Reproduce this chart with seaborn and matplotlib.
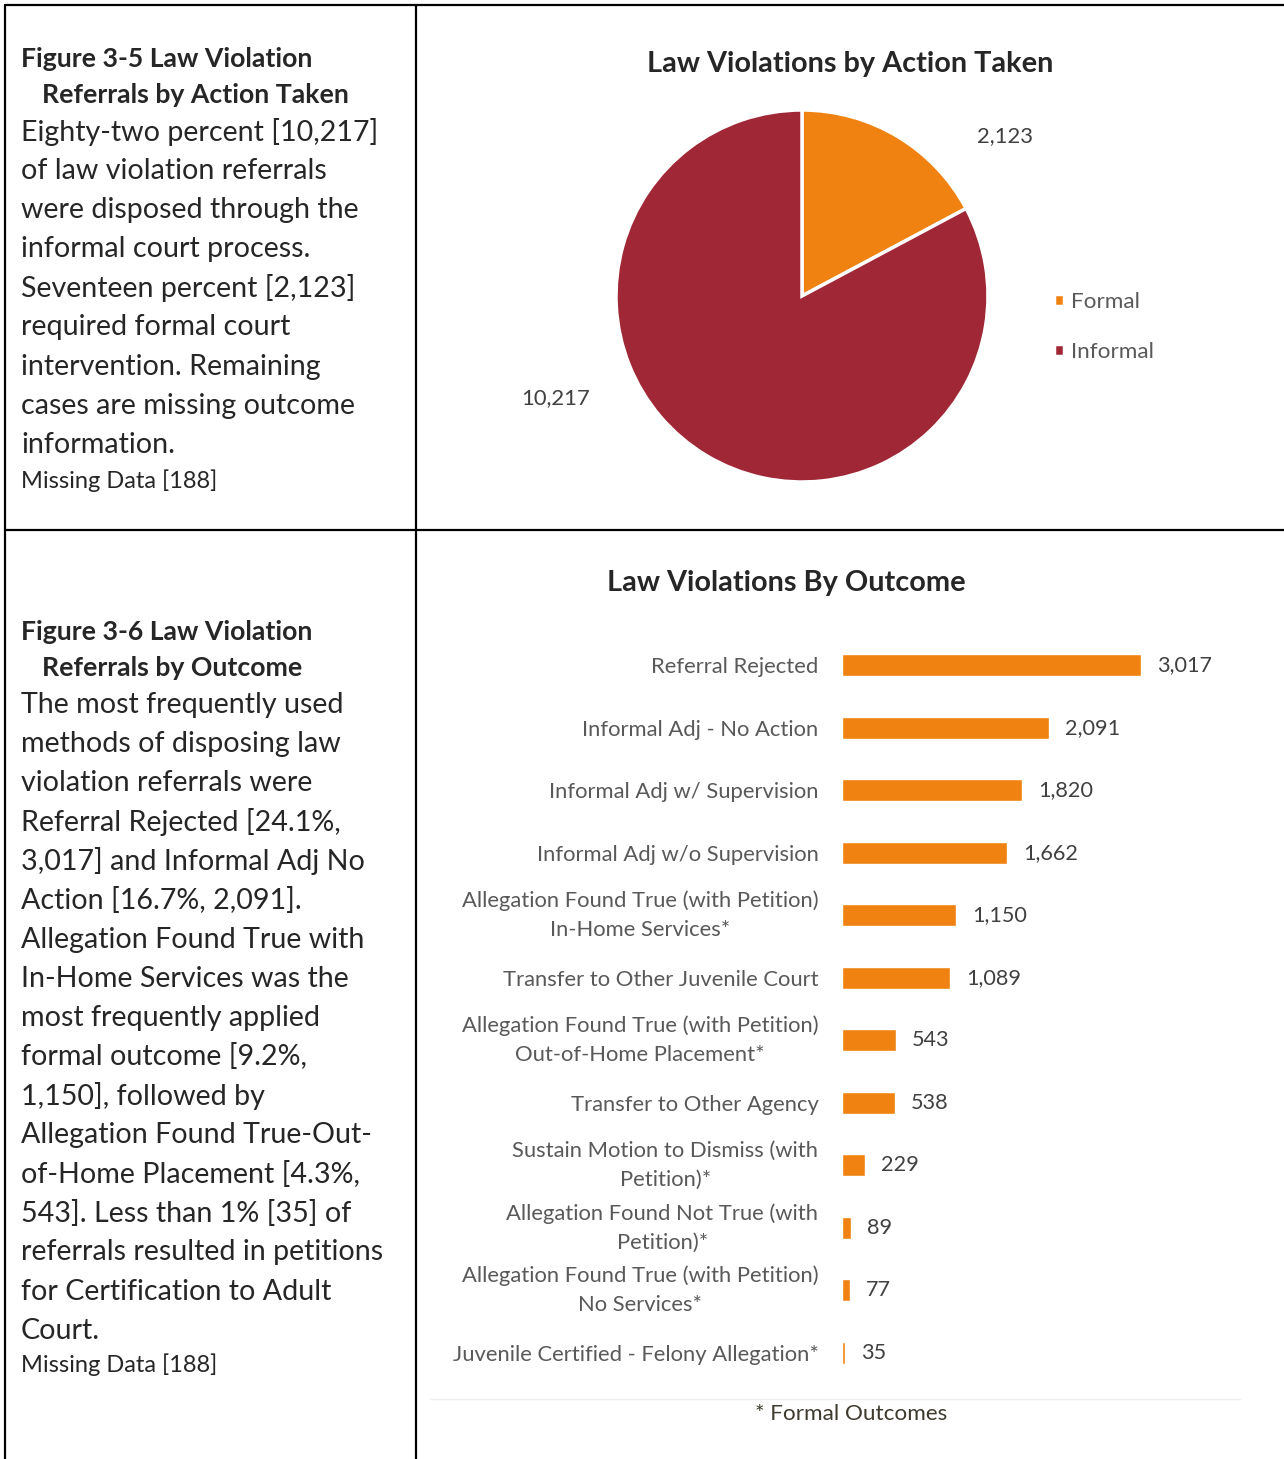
import seaborn as sns
import numpy as np
import matplotlib.pyplot as plt
from matplotlib.lines import Line2D

# data
pie_labels = ['Formal', 'Informal']
pie_values = [2123, 10217]

outcomes = [
    'Referral Rejected',
    'Informal Adj - No Action',
    'Informal Adj w/ Supervision',
    'Informal Adj w/o Supervision',
    'Allegation Found True (with Petition)\nIn-Home Services*',
    'Transfer to Other Juvenile Court',
    'Allegation Found True (with Petition)\nOut-of-Home Placement*',
    'Transfer to Other Agency',
    'Sustain Motion to Dismiss (with\nPetition)*',
    'Allegation Found Not True (with\nPetition)*',
    'Allegation Found True (with Petition)\nNo Services*',
    'Juvenile Certified - Felony Allegation*',
]
counts = [3017, 2091, 1820, 1662, 1150, 1089, 543, 538, 229, 89, 77, 35]

head1 = ['Figure 3-5 Law Violation', 'Referrals by Action Taken']
body1 = ['Eighty-two percent [10,217]', 'of law violation referrals',
         'were disposed through the', 'informal court process.',
         'Seventeen percent [2,123]', 'required formal court',
         'intervention. Remaining', 'cases are missing outcome',
         'information.']
head2 = ['Figure 3-6 Law Violation', 'Referrals by Outcome']
body2 = ['The most frequently used', 'methods of disposing law',
         'violation referrals were', 'Referral Rejected [24.1%,',
         '3,017] and Informal Adj No', 'Action [16.7%, 2,091].',
         'Allegation Found True with', 'In-Home Services was the',
         'most frequently applied', 'formal outcome [9.2%,',
         '1,150], followed by', 'Allegation Found True-Out-',
         'of-Home Placement [4.3%,', '543]. Less than 1% [35] of',
         'referrals resulted in petitions', 'for Certification to Adult',
         'Court.']
missing = 'Missing Data [188]'

ORANGE = '#EF8210'
RED = '#A02736'

sns.set_theme(style='white')
plt.rcParams['font.family'] = ['Lato', 'DejaVu Sans']

W, H = 1284, 1459
fig = plt.figure(figsize=(W / 100, H / 100), dpi=100)


def fx(px):
    return px / W


def fy(py):
    return 1 - py / H


# table borders
for (x0, y0, x1, y1) in [(5, 5, 1284, 5), (5, 530, 1284, 530),
                         (5, 5, 5, 1459), (416, 5, 416, 1459)]:
    fig.add_artist(Line2D([fx(x0), fx(x1)], [fy(y0), fy(y1)],
                          color='black', lw=1.6))


# left-hand text blocks (second heading line is indented)
def text_block(heads, body, y_head, y_body, y_missing):
    for i, t in enumerate(heads):
        fig.text(fx(21 if i == 0 else 42), fy(y_head + i * 36), t,
                 fontsize=19.2, fontweight='bold', va='center', ha='left')
    for i, t in enumerate(body):
        fig.text(fx(21), fy(y_body + i * 39.1), t, fontsize=20.6,
                 va='center', ha='left')
    fig.text(fx(21), fy(y_missing), missing, fontsize=17,
             va='center', ha='left')


text_block(head1, body1, 59, 132, 481)
text_block(head2, body2, 632, 705, 1365)

# pie chart
cx, cy, r = 802, 296, 186
side = 2 * r * 1.25
ax1 = fig.add_axes([fx(cx - side / 2), fy(cy + side / 2), side / W, side / H])
wedges, _ = ax1.pie(pie_values, colors=[ORANGE, RED], startangle=90,
                    counterclock=False,
                    wedgeprops=dict(edgecolor='white', linewidth=2.5))
ax1.text(203 / r, 160 / r, f'{pie_values[0]:,}', fontsize=15.8,
         color='#404040', ha='center', va='center')
ax1.text(-246 / r, -102 / r, f'{pie_values[1]:,}', fontsize=15.8,
         color='#404040', ha='center', va='center')
fig.text(fx(850), fy(64), 'Law Violations by Action Taken', fontsize=20.8,
         fontweight='bold', ha='center', va='center')
leg = fig.legend(wedges, pie_labels, loc='center left',
                 bbox_to_anchor=(fx(1034), fy(327)), frameon=False,
                 handlelength=0.45, handleheight=0.45, handletextpad=0.3,
                 labelspacing=1.35, fontsize=16.2)
for t in leg.get_texts():
    t.set_color('#595959')

# bar chart
scale = 299 / 3017  # px per referral
ax2 = fig.add_axes([fx(842), fy(1384), 3400 * scale / W, 750 / H])
sns.barplot(x=counts, y=outcomes, color=ORANGE, saturation=1, width=0.35,
            ax=ax2, orient='h')
ax2.set_xlim(0, 3400)
ax2.bar_label(ax2.containers[0], labels=[f'{v:,}' for v in counts],
              padding=11.5, fontsize=15.6, color='#404040')
ax2.set_xticks([])
ax2.tick_params(axis='y', length=0, pad=17, labelsize=15.8,
                labelcolor='#595959')
for lbl in ax2.get_yticklabels():
    lbl.set_multialignment('center')
    lbl.set_linespacing(1.55)
    if '\n' in lbl.get_text():
        lbl.set_va('center')
sns.despine(ax=ax2, left=True, bottom=True)
ax2.set_xlabel('')
ax2.set_ylabel('')

fig.text(fx(786), fy(583), 'Law Violations By Outcome', fontsize=20.8,
         fontweight='bold', ha='center', va='center')
fig.add_artist(Line2D([fx(430), fx(1240)], [fy(1399), fy(1399)],
                      color='#EFEFEF', lw=1))
fig.text(fx(851), fy(1414), '* Formal Outcomes', fontsize=16.2,
         color='#3F3A2E', ha='center', va='center')

plt.savefig('out.png', dpi=100)
